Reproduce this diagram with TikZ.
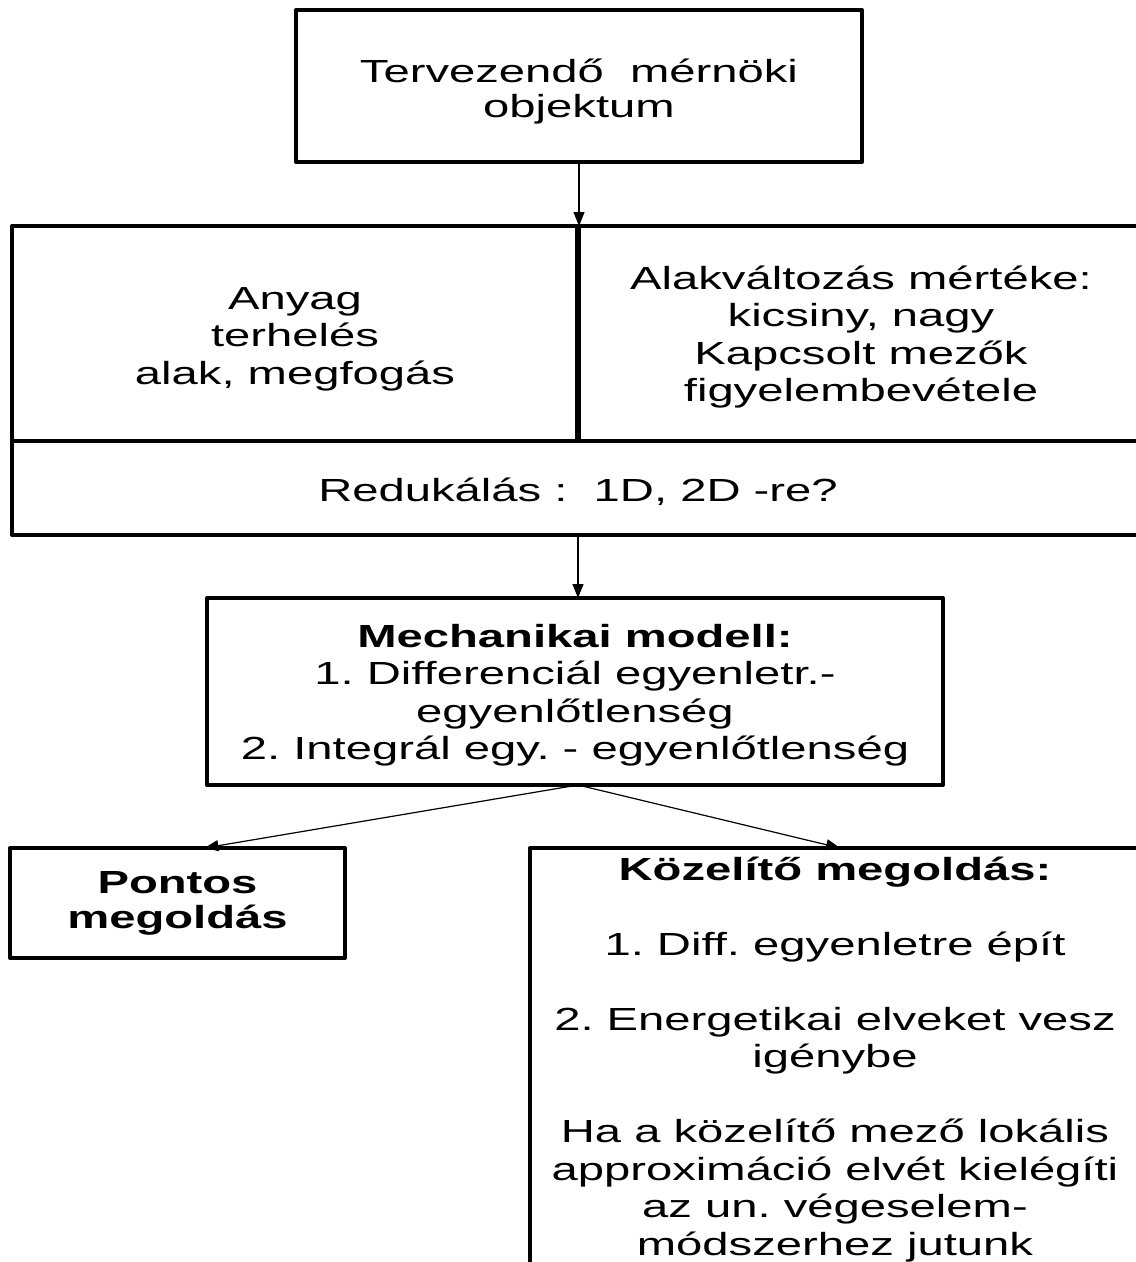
\documentclass[tikz,border=0pt]{standalone}
\usepackage{fontspec}
\setmainfont{Liberation Sans}[FakeStretch=1.475]
\usetikzlibrary{arrows.meta,calc}

\begin{document}
\frenchspacing
\begin{tikzpicture}[x=1pt,y=-1pt,
  frame/.style={draw, line width=4pt, line join=round, rectangle, inner sep=0pt, outer sep=0pt},
  cell/.style={rectangle, inner sep=0pt, outer sep=0pt},
  txt/.style={align=center, inner sep=0pt, yshift=-3.5pt, font=\fontsize{32}{37.5}\selectfont},
  divider/.style={line width=4pt},
  thickdivider/.style={line width=5.5pt},
  flow/.style={line width=1.2pt, -{Triangle[length=14pt,width=11pt]}},
]
\path[use as bounding box] (0,0) rectangle (1136,1262);
\clip (0,0) rectangle (1136,1262);

% design object
\node[frame, minimum width=566pt, minimum height=152pt] (top) at (579,86) {};
\node[txt, yshift=-2pt, font=\fontsize{32}{35}\selectfont] (toptxt) at (top.center) {Tervezendő\ \ mérnöki\\objektum};

% input data block with its three cells
\node[frame, minimum width=1132pt, minimum height=309pt] (spec) at (578,380.5) {};
\node[cell, minimum width=566pt, minimum height=215pt] (cellL) at (295,333.5) {};
\node[cell, minimum width=566pt, minimum height=215pt] (cellR) at (861,333.5) {};
\node[cell, minimum width=1132pt, minimum height=94pt] (cellB) at (578,488) {};
\draw[thickdivider] (cellL.north east) -- (cellL.south east);
\draw[divider] (cellB.north west) -- (cellB.north east);
\node[txt, yshift=-2pt] (anyag) at (cellL.center) {Anyag\\terhelés\\alak, megfogás};
\node[txt] (alak) at (cellR.center) {Alakváltozás mértéke:\\kicsiny, nagy\\Kapcsolt mezők\\figyelembevétele};
\node[txt] (red) at (cellB.center) {Redukálás :\ \ 1D, 2D -re?};

% mechanical model
\node[frame, minimum width=736pt, minimum height=187pt] (mech) at (575,691.5) {};
\node[txt] (mechtxt) at (mech.center) {\textbf{Mechanikai modell:}\\1. Differenciál egyenletr.-\\egyenlőtlenség\\2. Integrál egy. - egyenlőtlenség};

% solutions
\node[frame, minimum width=335pt, minimum height=110pt] (pontos) at (177.5,903) {};
\node[txt, yshift=3.5pt, font=\bfseries\fontsize{32}{35}\selectfont] (pontostxt) at (pontos.center) {Pontos\\megoldás};

\node[frame, minimum width=610pt, minimum height=452pt] (kozel) at (835,1074) {};
\node[txt] (kozeltxt) at (835,1056) {\textbf{Közelítő megoldás:}\\[37.5pt]1. Diff. egyenletre épít\\[37.5pt]2. Energetikai elveket vesz\\igénybe\\[37.5pt]Ha a közelítő mező lokális\\approximáció elvét kielégíti\\az un. végeselem-\\módszerhez jutunk};

% connectors
\draw[flow] (top.south) -- (top.south |- spec.north);
\draw[flow] (spec.south) -- (spec.south |- mech.north);
\coordinate (fork) at (spec.south |- mech.south);
\draw[flow] (fork) -- ([xshift=27pt]pontos.north);
\draw[flow] (fork) -- ([xshift=5pt]kozel.north);
\end{tikzpicture}
\end{document}
